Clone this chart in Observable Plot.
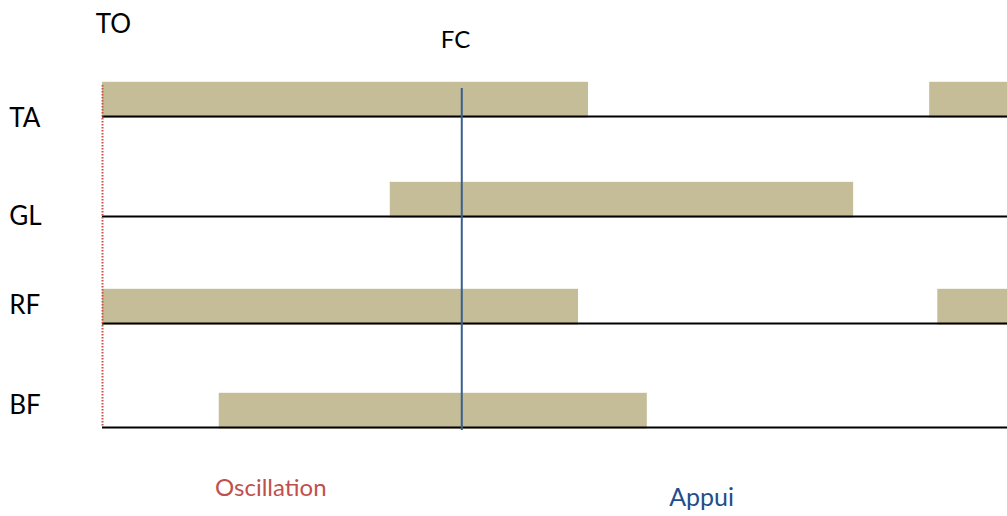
<!DOCTYPE html>
<html>
<head>
<meta charset="utf-8">
<script src="https://cdn.jsdelivr.net/npm/d3@7"></script>
<script src="https://cdn.jsdelivr.net/npm/@observablehq/plot@0.6"></script>
<style>
  html, body { margin: 0; padding: 0; background: #fff; }
  #chart svg { display: block; }
</style>
</head>
<body>
<div id="chart"></div>
<script>
// Muscles (rows) and their activation periods, in % of the drawn cycle window
const muscles = ["TA", "GL", "RF", "BF"];
const segMuscle = ["TA", "TA", "GL", "RF", "RF", "BF"];
const segStart  = [0, 91.4, 31.8, 0, 92.3, 12.9];
const segEnd    = [53.7, 100, 83.0, 52.6, 100, 60.2];

// Events
const toTime = 0;        // TO (toe off)
const fcTime = 39.7;     // FC (foot contact)

// Phase labels
const phaseNames = ["Oscillation", "Appui"];

// ---- layout (kept separate from data) ----
const rowPos = [0, 0.965, 1.997, 3];
const labelY = [0.02, 0.965, 1.82, 2.79];
const barH = 0.33;
const segments = segMuscle.map((m, i) => {
  const k = muscles.indexOf(m);
  return {muscle: m, start: segStart[i], end: segEnd[i], row: rowPos[k]};
});
const rows = muscles.map((m, i) => ({muscle: m, row: rowPos[i], ly: labelY[i]}));

const font = "Lato, 'Open Sans', sans-serif";

const chart = Plot.plot({
  width: 1007,
  height: 516,
  margin: 0,
  style: {fontFamily: font, background: "#fff", overflow: "visible"},
  x: {domain: [0, 100], range: [102, 1007], axis: null},
  y: {domain: [0, 3], range: [116, 427], axis: null},
  marks: [
    Plot.rect(segments, {
      x1: "start", x2: "end",
      y1: d => d.row - barH, y2: d => d.row + 0.015,
      fill: "#C4BD97"
    }),
    Plot.ruleY(rows, {y: "row", x1: 0, x2: 100, stroke: "#000", strokeWidth: 2}),
    Plot.ruleX([toTime], {y1: -0.30, y2: 3, stroke: "#D0504D", strokeWidth: 2, strokeDasharray: "1.5,1.5"}),
    Plot.ruleX([fcTime], {y1: -0.27, y2: 3.03, stroke: "#3A5F8F", strokeWidth: 2}),
    Plot.text(rows, {x: -10.3, y: "ly", text: "muscle", textAnchor: "start", fontSize: 26, fill: "#000"}),
    Plot.text(["TO"], {x: 1.2, y: -0.885, text: d => d, fontSize: 26, fill: "#000"}),
    Plot.text(["FC"], {x: 39.0, y: -0.735, text: d => d, fontSize: 24, fill: "#000"}),
    Plot.text([phaseNames[0]], {x: 18.6, y: 3.59, text: d => d, fontSize: 24, fill: "#C0504D"}),
    Plot.text([phaseNames[1]], {x: 66.2, y: 3.68, text: d => d, fontSize: 25, fill: "#1F4E8C"})
  ]
});
document.getElementById("chart").appendChild(chart);
</script>
</body>
</html>
